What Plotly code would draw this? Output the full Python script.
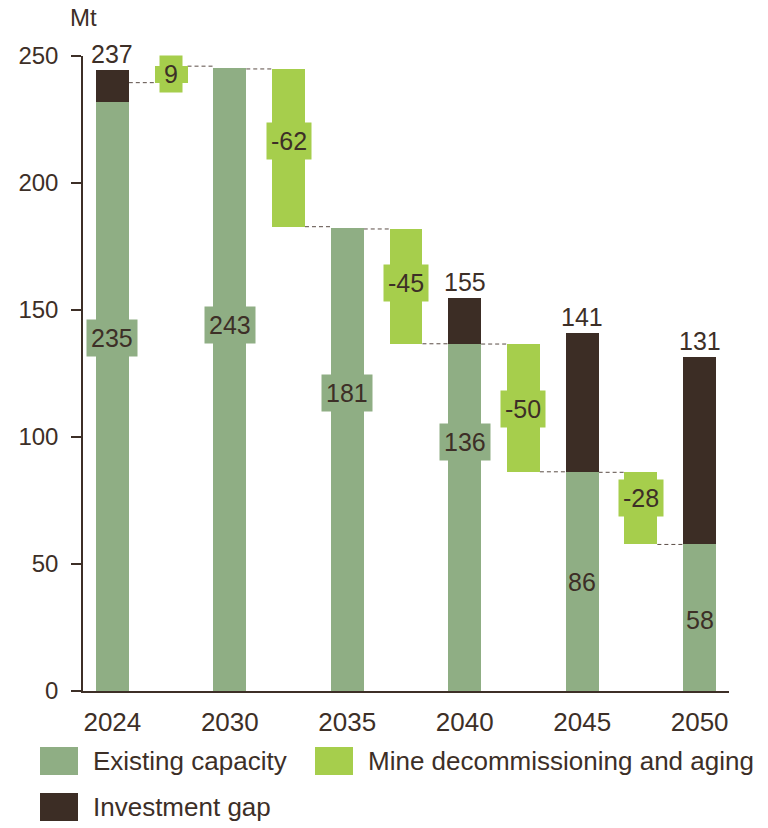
import plotly.graph_objects as go

# ---------------- data ----------------
years = ["2024", "2030", "2035", "2040", "2045", "2050"]
existing = [232.0, 245.3, 182.3, 136.5, 86.3, 57.7]
gap = [12.5, 0.0, 0.0, 18.3, 54.5, 73.9]
change_from = [239.5, 244.9, 181.9, 136.6, 86.1]
change_to = [246.0, 182.8, 136.7, 86.3, 57.7]

existing_labels = ["235", "243", "181", "136", "86", "58"]
existing_label_y = [139.0, 143.9, 117.3, 97.9, 43.0, 28.0]
total_labels = ["237", "", "", "155", "141", "131"]
change_labels = ["9", "-62", "-45", "-50", "-28"]
change_label_y = [243.0, 216.7, 160.5, 111.2, 75.9]

# ---------------- style ----------------
C_EXIST = "#8fae84"
C_CHANGE = "#a6ce4c"
C_GAP = "#3c2d25"
C_TEXT = "#3d2f27"
FONT = "Liberation Sans, Arial, sans-serif"
BAR_W = 0.56

W, H = 768, 828
ML, MR, MT, MB = 83, 39, 56, 137
PW, PH = W - ML - MR, H - MT - MB

def px(x):
    return (x - ML) / PW

def py(y):
    return (H - MB - y) / PH

year_x = [2 * i for i in range(len(years))]
change_x = [2 * i + 1 for i in range(len(change_labels))]

fig = go.Figure()
fig.add_trace(go.Bar(x=year_x, y=existing, base=[0] * len(existing), width=BAR_W,
                     marker=dict(color=C_EXIST, line=dict(width=0)), hoverinfo="skip",
                     showlegend=False))
fig.add_trace(go.Bar(x=year_x, y=gap, base=existing, width=BAR_W,
                     marker=dict(color=C_GAP, line=dict(width=0)), hoverinfo="skip",
                     showlegend=False))
fig.add_trace(go.Bar(x=change_x,
                     y=[abs(a - b) for a, b in zip(change_from, change_to)],
                     base=[min(a, b) for a, b in zip(change_from, change_to)],
                     width=BAR_W,
                     marker=dict(color=C_CHANGE, line=dict(width=0)), hoverinfo="skip",
                     showlegend=False))

shapes = []
# dashed connectors
for i, cx in enumerate(change_x):
    shapes.append(dict(type="line", xref="x", yref="y",
                       x0=cx - 1 + BAR_W / 2, x1=cx - BAR_W / 2,
                       y0=change_from[i], y1=change_from[i],
                       line=dict(color="#5b4d46", width=1, dash="4px,3px"), layer="below"))
    shapes.append(dict(type="line", xref="x", yref="y",
                       x0=cx + BAR_W / 2, x1=cx + 1 - BAR_W / 2,
                       y0=change_to[i], y1=change_to[i],
                       line=dict(color="#5b4d46", width=1, dash="4px,3px"), layer="below"))

annotations = []
lab_font = dict(family=FONT, size=25, color=C_TEXT)
for i, x in enumerate(year_x):
    boxed = existing_labels[i] not in ("86", "58")
    annotations.append(dict(x=x, y=existing_label_y[i], xref="x", yref="y",
                            text=existing_labels[i], showarrow=False, font=lab_font,
                            bgcolor=C_EXIST if boxed else "rgba(0,0,0,0)", borderpad=4))
    if total_labels[i]:
        annotations.append(dict(x=x, y=existing[i] + gap[i], xref="x", yref="y",
                                text=total_labels[i], showarrow=False, font=lab_font,
                                yanchor="bottom", yshift=0))
for i, x in enumerate(change_x):
    annotations.append(dict(x=x, y=change_label_y[i], xref="x", yref="y",
                            text=change_labels[i], showarrow=False, font=lab_font,
                            bgcolor=C_CHANGE, borderpad=4))

# unit label
annotations.append(dict(x=px(83), y=py(18), xref="paper", yref="paper", text="Mt",
                        xanchor="center", yanchor="middle",
                        showarrow=False, font=dict(family=FONT, size=24, color=C_TEXT)))

# manual legend
legend_items = [("Existing capacity", C_EXIST, 40, 747),
                ("Mine decommissioning and aging", C_CHANGE, 315, 747),
                ("Investment gap", C_GAP, 40, 793)]
for name, col, lx, ly in legend_items:
    shapes.append(dict(type="rect", xref="paper", yref="paper",
                       x0=px(lx), x1=px(lx + 38), y0=py(ly), y1=py(ly + 28),
                       fillcolor=col, line=dict(width=0)))
    annotations.append(dict(x=px(lx + 51), y=py(ly + 14), xref="paper", yref="paper",
                            text=name, showarrow=False, xanchor="left", yanchor="middle",
                            font=dict(family=FONT, size=26, color=C_TEXT)))

fig.update_layout(
    width=W, height=H, autosize=False,
    margin=dict(l=ML, r=MR, t=MT, b=MB, pad=0),
    paper_bgcolor="white", plot_bgcolor="white",
    barmode="overlay", bargap=0,
    shapes=shapes, annotations=annotations,
    font=dict(family=FONT, color=C_TEXT),
    xaxis=dict(range=[-0.5, 10.5], tickvals=year_x, ticktext=years,
               showgrid=False, zeroline=False, showline=True, linecolor=C_TEXT,
               linewidth=1.5, ticks="", tickfont=dict(family=FONT, size=26, color=C_TEXT),
               ticklabelstandoff=7, fixedrange=True),
    yaxis=dict(range=[0, 250], tickvals=[0, 50, 100, 150, 200, 250],
               showgrid=False, zeroline=False, showline=True, linecolor=C_TEXT,
               linewidth=1.5, ticks="outside", ticklen=10, tickwidth=1.5, tickcolor=C_TEXT,
               tickfont=dict(family=FONT, size=24, color=C_TEXT), ticklabelstandoff=8,
               fixedrange=True),
)

fig.write_html("out.html")
